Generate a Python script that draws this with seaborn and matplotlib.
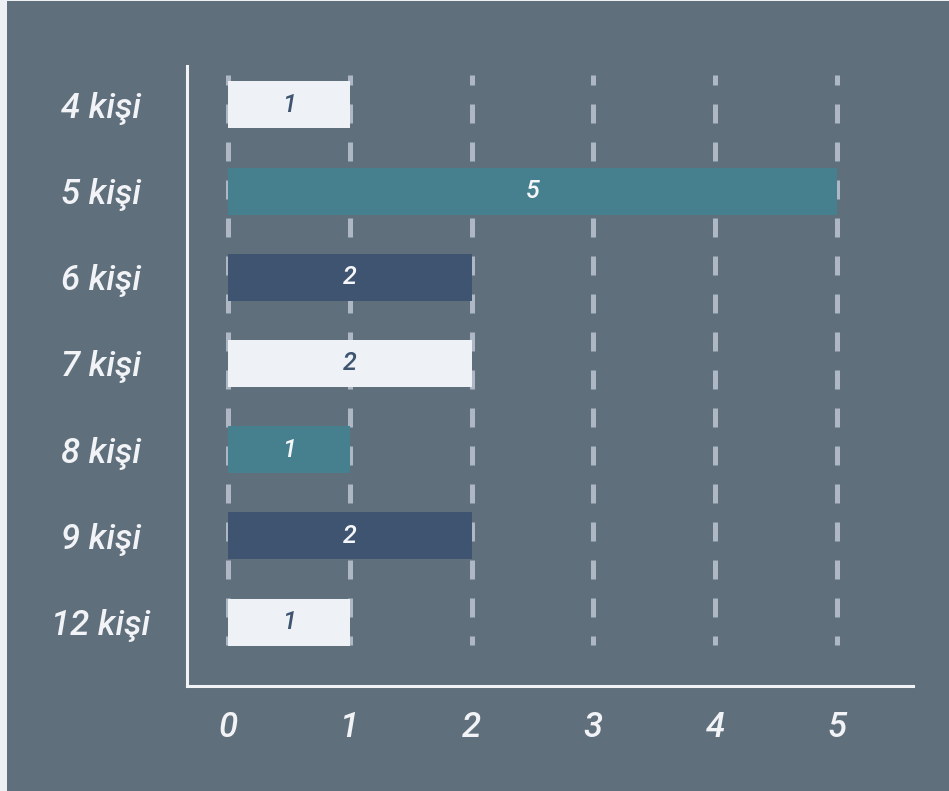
import matplotlib
matplotlib.use("Agg")
import matplotlib.pyplot as plt
from matplotlib.patches import Rectangle
import pandas as pd
import seaborn as sns

categories = ["4 kişi", "5 kişi", "6 kişi", "7 kişi", "8 kişi", "9 kişi", "12 kişi"]
counts = [1, 5, 2, 2, 1, 2, 1]
bar_colors = ["#eef2f6", "#46808f", "#3e5471", "#eef2f6", "#46808f", "#3e5471", "#eef2f6"]
label_colors = ["#3e5471", "#f4f6f9", "#f4f6f9", "#3e5471", "#f4f6f9", "#f4f6f9", "#3e5471"]
x_ticks = [0, 1, 2, 3, 4, 5]

bg = "#5f6f7c"
fg = "#f1f3f6"
grid_color = "#aeb8c4"

sns.set_theme(style="white")
plt.rcParams["font.family"] = ["Roboto", "DejaVu Sans"]

df = pd.DataFrame({"category": categories, "count": counts})

fig = plt.figure(figsize=(9.49, 7.91), dpi=100, facecolor="#eef1f4")
# dark panel with thin light frame at left/top
fig.patches.append(Rectangle((7 / 949, 0), 1, 1 - 1 / 791, transform=fig.transFigure,
                             facecolor=bg, edgecolor="none", zorder=-5))
ax = fig.add_axes([187 / 949, 105 / 791, (913 - 187) / 949, (686 - 66) / 791])
ax.set_facecolor("none")
ax.set_zorder(2)

sns.barplot(data=df, x="count", y="category", hue="category", palette=bar_colors,
            legend=False, width=0.545, saturation=1, orient="h", ax=ax, zorder=2,
            linewidth=0, edgecolor="none")

# dashed vertical guides, behind the bars
ax.vlines(x_ticks, -0.35, 6.27, colors=grid_color, linewidth=3.6,
          linestyles=[(1.8, (3.8, 3.8))], zorder=1)

for container, val, col in zip(ax.containers, counts, label_colors):
    ax.bar_label(container, labels=[str(val)], label_type="center", color=col,
                 fontsize=18, fontstyle="italic", fontweight="medium")

ax.set_xlim(-0.337, 5.624)
ax.set_ylim(6.74, -0.45)
ax.set_xticks(x_ticks)
ax.set_xlabel("")
ax.set_ylabel("")

for side in ["top", "right"]:
    ax.spines[side].set_visible(False)
for side in ["left", "bottom"]:
    ax.spines[side].set_color(fg)
    ax.spines[side].set_linewidth(2.2)

ax.tick_params(axis="both", length=0, colors=fg)
ax.tick_params(axis="y", pad=62)
ax.tick_params(axis="x", pad=18)
for lab in ax.get_yticklabels() + ax.get_xticklabels():
    lab.set_fontsize(25)
    lab.set_fontstyle("italic")
    lab.set_fontweight("medium")
    lab.set_color(fg)
for lab in ax.get_yticklabels():
    lab.set_horizontalalignment("center")

fig.savefig("out.png", dpi=100, facecolor=fig.get_facecolor())
